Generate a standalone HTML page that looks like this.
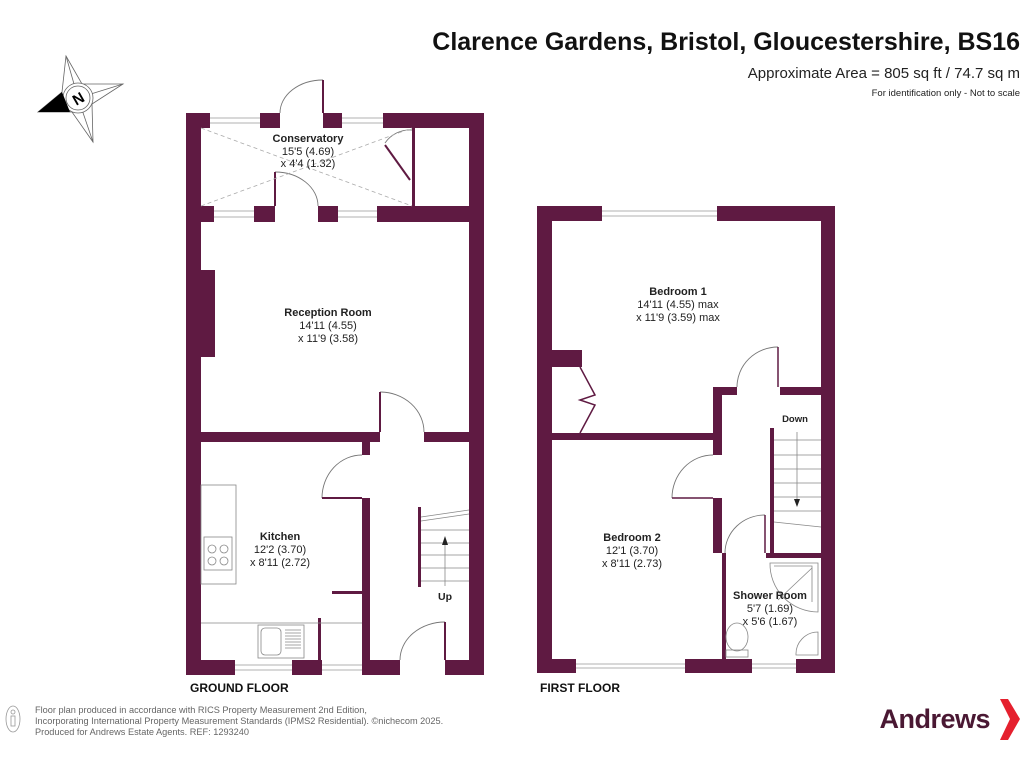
<!DOCTYPE html>
<html><head><meta charset="utf-8"><style>
html,body{margin:0;padding:0;background:#fff;}
svg{display:block;font-family:"Liberation Sans",Arial,sans-serif;}
</style></head><body>
<svg width="1024" height="768" viewBox="0 0 1024 768" xmlns="http://www.w3.org/2000/svg">
<rect width="1024" height="768" fill="#fff"/>
<!-- Header -->
<text x="1020" y="50" text-anchor="end" font-size="25" font-weight="bold" fill="#111">Clarence Gardens, Bristol, Gloucestershire, BS16</text>
<text x="1020" y="78" text-anchor="end" font-size="15" fill="#222">Approximate Area = 805 sq ft / 74.7 sq m</text>
<text x="1020" y="96" text-anchor="end" font-size="9.5" fill="#222">For identification only - Not to scale</text>
<!-- Compass -->
<g stroke="#666" stroke-width="0.8" fill="none">
<polygon points="66,56 82,84 123,84 92,104 93,142 72,112 38,112 62,92"/>
<line x1="66" y1="56" x2="78" y2="98"/><line x1="123" y1="84" x2="78" y2="98"/><line x1="93" y1="142" x2="78" y2="98"/>
<circle cx="78" cy="98" r="15" fill="#fff"/><circle cx="78" cy="98" r="12"/>
</g>
<polygon points="38,112 62,92 70,112" fill="#000"/>
<text x="78" y="104" text-anchor="middle" font-size="15" font-weight="bold" transform="rotate(-30 78 98)">N</text>

<g fill="#5f1a42">
<!-- GROUND FLOOR walls -->
<rect x="186" y="113" width="15" height="562"/>
<rect x="469" y="113" width="15" height="562"/>
<rect x="186" y="113" width="24" height="15"/>
<rect x="260" y="113" width="20" height="15"/>
<rect x="323" y="113" width="19" height="15"/>
<rect x="383" y="113" width="101" height="15"/>
<rect x="412" y="128" width="3" height="79"/>
<rect x="186" y="206" width="28" height="16"/>
<rect x="254" y="206" width="21" height="16"/>
<rect x="318" y="206" width="20" height="16"/>
<rect x="377" y="206" width="107" height="16"/>
<rect x="186" y="270" width="29" height="87"/>
<rect x="186" y="432" width="194" height="10"/>
<rect x="424" y="432" width="60" height="10"/>
<rect x="362" y="442" width="8" height="13"/>
<rect x="362" y="498" width="8" height="162"/>
<rect x="332" y="591" width="30" height="3"/>
<rect x="318" y="618" width="3" height="42"/>
<rect x="186" y="660" width="49" height="15"/>
<rect x="292" y="660" width="30" height="15"/>
<rect x="362" y="660" width="38" height="15"/>
<rect x="445" y="660" width="39" height="15"/>
<rect x="418" y="507" width="3" height="80"/>
<!-- FIRST FLOOR walls -->
<rect x="537" y="206" width="15" height="467"/>
<rect x="821" y="206" width="14" height="467"/>
<rect x="537" y="206" width="65" height="15"/>
<rect x="717" y="206" width="118" height="15"/>
<rect x="552" y="350" width="30" height="17"/>
<rect x="552" y="433" width="162" height="7"/>
<rect x="713" y="387" width="9" height="68"/>
<rect x="713" y="387" width="24" height="8"/>
<rect x="780" y="387" width="41" height="8"/>
<rect x="713" y="498" width="9" height="55"/>
<rect x="722" y="553" width="4" height="106"/>
<rect x="766" y="553" width="55" height="5"/>
<rect x="770" y="428" width="4" height="125"/>
<rect x="537" y="659" width="39" height="14"/>
<rect x="685" y="659" width="67" height="14"/>
<rect x="796" y="659" width="39" height="14"/>
</g>
<!-- windows -->
<g stroke="#999" stroke-width="0.8" fill="none">
<path d="M210,118H260M210,123H260M342,118H383M342,123H383M214,211H254M214,217H254M338,211H377M338,217H377"/>
<path d="M235,665H292M235,670H292M322,665H362M322,670H362"/>
<path d="M602,211H717M602,216H717M576,664H685M576,668H685M752,664H796M752,668H796"/>
</g>
<!-- doors -->
<g stroke="#777" stroke-width="0.9" fill="none">
<path d="M280,113A43,33 0 0 1 323,80"/><line x1="323" y1="80" x2="323" y2="113" stroke="#5f1a42" stroke-width="2"/>
<path d="M275,172A43,34 0 0 1 318,206"/><line x1="275" y1="172" x2="275" y2="206" stroke="#5f1a42" stroke-width="2"/>
<path d="M385,143A30,30 0 0 1 412,130"/><line x1="385" y1="145" x2="410" y2="180" stroke="#5f1a42" stroke-width="2"/>
<path d="M380,392A44,40 0 0 1 424,432"/><line x1="380" y1="392" x2="380" y2="432" stroke="#5f1a42" stroke-width="2"/>
<path d="M322,498A40,43 0 0 1 362,455"/><line x1="322" y1="498" x2="362" y2="498" stroke="#5f1a42" stroke-width="2"/>
<path d="M400,660A45,38 0 0 1 445,622"/><line x1="445" y1="622" x2="445" y2="660" stroke="#5f1a42" stroke-width="2"/>
<path d="M737,387A41,40 0 0 1 778,347"/><line x1="778" y1="347" x2="778" y2="387" stroke="#5f1a42" stroke-width="1.5"/>
<path d="M672,498A41,43 0 0 1 713,455"/><line x1="672" y1="498" x2="713" y2="498" stroke="#5f1a42" stroke-width="1.5"/>
<path d="M725,553A40,38 0 0 1 765,515"/><line x1="765" y1="515" x2="765" y2="553" stroke="#5f1a42" stroke-width="1.5"/>
<path d="M580,367L595,395L580,400L595,405L580,433" stroke="#5f1a42" stroke-width="1.5"/>
</g>
<!-- conservatory diagonals -->
<g stroke="#aaa" stroke-width="0.8" stroke-dasharray="4,3"><line x1="201" y1="128" x2="412" y2="206"/><line x1="201" y1="206" x2="412" y2="128"/></g>
<!-- kitchen fittings -->
<g stroke="#888" stroke-width="0.8" fill="none">
<rect x="201" y="485" width="35" height="99"/>
<rect x="204" y="537" width="28" height="33"/>
<circle cx="212" cy="549" r="4"/><circle cx="224" cy="549" r="4"/><circle cx="212" cy="561" r="4"/><circle cx="224" cy="561" r="4"/>
<line x1="201" y1="623" x2="362" y2="623"/>
<rect x="258" y="625" width="46" height="33"/><rect x="261" y="628" width="20" height="27" rx="4"/>
<path d="M285,630H301M285,633H301M285,636H301M285,639H301M285,642H301M285,645H301M285,648H301"/>
<path d="M421,517L469,510M421,521L469,514M421,530H469M421,543H469M421,555H469M421,568H469M421,581H469"/>
<line x1="445" y1="545" x2="445" y2="586"/>
<path d="M774,440H821M774,455H821M774,469H821M774,483H821M774,497H821M774,511H821M774,522L821,527"/>
<line x1="797" y1="432" x2="797" y2="500"/>
<path d="M770,563H818V612A48,48 0 0 1 770,563Z"/><path d="M774,566H812V602"/><line x1="778" y1="600" x2="812" y2="568"/>
<path d="M818,632V655H796A22,22 0 0 1 818,632Z"/>
<ellipse cx="737" cy="637" rx="11" ry="14"/><rect x="726" y="650" width="22" height="7"/>
</g>
<polygon points="445,536 442,545 448,545" fill="#222"/>
<polygon points="797,507 794,499 800,499" fill="#222"/>
<!-- labels -->
<g text-anchor="middle" fill="#222" font-size="11">
<text x="308" y="142" font-weight="bold">Conservatory</text><text x="308" y="155">15'5 (4.69)</text><text x="308" y="167">x 4'4 (1.32)</text>
<text x="328" y="316" font-weight="bold">Reception Room</text><text x="328" y="329">14'11 (4.55)</text><text x="328" y="342">x 11'9 (3.58)</text>
<text x="280" y="540" font-weight="bold">Kitchen</text><text x="280" y="553">12'2 (3.70)</text><text x="280" y="566">x 8'11 (2.72)</text>
<text x="445" y="600" font-weight="bold" font-size="10.5">Up</text>
<text x="678" y="295" font-weight="bold">Bedroom 1</text><text x="678" y="308">14'11 (4.55) max</text><text x="678" y="321">x 11'9 (3.59) max</text>
<text x="632" y="541" font-weight="bold">Bedroom 2</text><text x="632" y="554">12'1 (3.70)</text><text x="632" y="567">x 8'11 (2.73)</text>
<text x="795" y="422" font-weight="bold" font-size="9.5">Down</text>
<text x="770" y="599" font-weight="bold">Shower Room</text><text x="770" y="612">5'7 (1.69)</text><text x="770" y="625">x 5'6 (1.67)</text>
</g>
<text x="190" y="692" font-size="12" font-weight="bold" fill="#111">GROUND FLOOR</text>
<text x="540" y="692" font-size="12" font-weight="bold" fill="#111">FIRST FLOOR</text>
<!-- footer -->
<g stroke="#999" fill="none" stroke-width="0.8"><ellipse cx="13" cy="719" rx="7" ry="13"/><circle cx="13" cy="712" r="2"/><rect x="11" y="716" width="4" height="10"/></g>
<g font-size="9.2" fill="#666"><text x="35" y="713">Floor plan produced in accordance with RICS Property Measurement 2nd Edition,</text>
<text x="35" y="724">Incorporating International Property Measurement Standards (IPMS2 Residential).   ©nichecom 2025.</text>
<text x="35" y="735">Produced for Andrews Estate Agents.   REF: 1293240</text></g>
<text x="990" y="728" text-anchor="end" font-size="27" font-weight="bold" fill="#4a1833" letter-spacing="-0.5">Andrews</text>
<polygon points="1000,699 1008,699 1020,719 1008,740 1000,740 1010,719" fill="#e5202e"/>
</svg>
</body></html>
